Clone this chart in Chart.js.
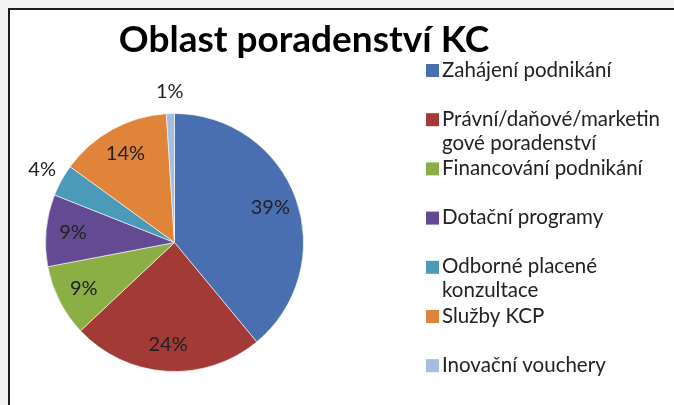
<!DOCTYPE html>
<html>
<head>
<meta charset="utf-8">
<script src="https://cdn.jsdelivr.net/npm/chart.js@4.4.1/dist/chart.umd.min.js"></script>
<style>
  html, body { margin: 0; padding: 0; background: #fff; }
  canvas { display: block; }
</style>
</head>
<body>
<canvas id="chart" width="674" height="405"></canvas>
<script>
const title = "Oblast poradenství KC";

const categories = [
  ["Zahájení podnikání"],
  ["Právní/daňové/marketin", "gové poradenství"],
  ["Financování podnikání"],
  ["Dotační programy"],
  ["Odborné placené", "konzultace"],
  ["Služby KCP"],
  ["Inovační vouchery"],
];

const shares = [39, 24, 9, 9, 4, 14, 1];

const colors = ["#4a6fb0", "#a23a36", "#8bae45", "#634a93", "#4b9ab8", "#e0843a", "#a4bde0"];

const fontFamily = "Lato, 'Open Sans', sans-serif";

// white page with the thin frame (top and left edge only)
const framePlugin = {
  id: "frame",
  beforeDraw(chart) {
    const ctx = chart.ctx;
    ctx.save();
    ctx.fillStyle = "#f4f4f4";
    ctx.fillRect(0, 0, chart.width, chart.height);
    ctx.fillStyle = "#ffffff";
    ctx.fillRect(9, 9, chart.width - 9, chart.height - 9);
    ctx.strokeStyle = "#1e1e1e";
    ctx.lineWidth = 2;
    ctx.beginPath();
    ctx.moveTo(9, chart.height);
    ctx.lineTo(9, 9);
    ctx.lineTo(chart.width, 9);
    ctx.stroke();
    ctx.restore();
  },
};

const titlePlugin = {
  id: "bigTitle",
  afterDraw(chart) {
    const ctx = chart.ctx;
    ctx.save();
    ctx.fillStyle = "#000";
    ctx.font = "bold 37px " + fontFamily;
    ctx.textAlign = "center";
    ctx.textBaseline = "alphabetic";
    ctx.fillText(title, 304, 52);
    ctx.restore();
  },
};

// percentage labels: inside big slices, just outside the small ones
const sliceLabels = {
  id: "sliceLabels",
  afterDatasetsDraw(chart) {
    const ctx = chart.ctx;
    const meta = chart.getDatasetMeta(0);
    ctx.save();
    ctx.font = "20px " + fontFamily;
    ctx.fillStyle = "#222";
    ctx.textAlign = "center";
    ctx.textBaseline = "middle";
    meta.data.forEach((arc, i) => {
      const p = arc.getProps(["x", "y", "startAngle", "endAngle", "outerRadius"], true);
      const mid = (p.startAngle + p.endAngle) / 2;
      const value = shares[i];
      const r = value < 5 ? p.outerRadius + 22 : p.outerRadius * 0.79;
      ctx.fillText(value + "%", p.x + Math.cos(mid) * r, p.y + Math.sin(mid) * r);
    });
    ctx.restore();
  },
};

// legend on the right, Excel style: fixed slots, wrapped lines squeezed in
const sideLegend = {
  id: "sideLegend",
  afterDraw(chart) {
    const ctx = chart.ctx;
    ctx.save();
    ctx.font = "20.5px " + fontFamily;
    ctx.textAlign = "left";
    ctx.textBaseline = "middle";
    let y = 70;
    categories.forEach((lines, i) => {
      ctx.fillStyle = colors[i];
      ctx.fillRect(426, y - 6, 13, 13);
      ctx.fillStyle = "#222";
      lines.forEach((line, j) => {
        ctx.fillText(line, 442, y + j * 24);
      });
      y += 49.2;
    });
    ctx.restore();
  },
};

const data = {
  labels: categories,
  datasets: [
    {
      data: shares,
      backgroundColor: colors,
      borderColor: "rgba(255,255,255,0.6)",
      borderWidth: 1,
    },
  ],
};

const config = {
  type: "pie",
  data: data,
  options: {
    responsive: false,
    animation: false,
    devicePixelRatio: 1,
    layout: {
      padding: { left: 45, top: 113, right: 370, bottom: 33 },
    },
    plugins: {
      legend: { display: false },
      title: { display: false },
      tooltip: { enabled: false },
    },
  },
  plugins: [framePlugin, sliceLabels, titlePlugin, sideLegend],
};

const chart = new Chart(document.getElementById("chart"), config);
</script>
</body>
</html>
